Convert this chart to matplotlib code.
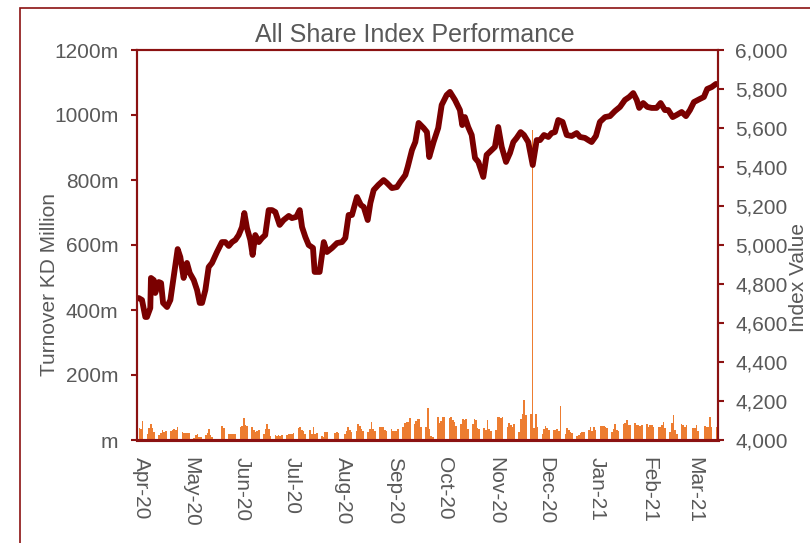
import pandas as pd
import matplotlib
matplotlib.use("Agg")
import matplotlib.pyplot as plt
import matplotlib.dates as mdates
from matplotlib.ticker import FuncFormatter, MultipleLocator
from matplotlib.patches import Rectangle

plt.rcParams['font.family'] = ['Liberation Sans', 'DejaVu Sans']

DARK = '#8B1212'
GREY = '#595959'

# index level (days after 1 Apr 2020)
base_date = pd.Timestamp("2020-04-01")
line_days = [
    -1.4, 0.6, 2.6, 3.6, 5.6, 6.0, 7.7, 8.6, 10.7, 12.1,
    13.3, 15.7, 17.7, 19.7, 22.1, 23.7, 25.7, 27.7, 29.4, 31.8,
    33.8, 35.4, 36.8, 38.8, 40.8, 42.8, 45.8, 48.8, 50.8, 52.9,
    54.9, 56.9, 58.9, 60.9, 62.3, 63.9, 65.9, 67.3, 68.9, 71.0,
    73.0, 74.9, 77.0, 79.0, 81.0, 83.6, 86.0, 89.1, 91.0, 93.6,
    95.7, 97.1, 99.1, 101.1, 103.7, 104.7, 107.7, 110.2, 112.1, 115.2,
    118.2, 121.2, 123.2, 125.2, 127.2, 130.2, 132.6, 134.3, 136.7, 138.3,
    140.3, 143.1, 146.3, 148.3, 151.3, 154.3, 156.3, 159.4, 160.8, 163.4,
    165.4, 167.4, 170.4, 172.4, 173.8, 176.4, 179.2, 181.3, 184.3, 186.3,
    189.3, 192.3, 193.7, 195.3, 197.3, 199.4, 201.4, 203.4, 206.4, 208.4,
    211.4, 213.4, 215.4, 217.5, 220.1, 222.5, 224.5, 226.5, 228.9, 230.9,
    233.5, 236.2, 238.6, 240.6, 243.0, 245.6, 247.6, 249.6, 251.6, 254.2,
    256.7, 259.7, 262.7, 264.7, 267.7, 269.7, 271.7, 274.3, 276.7, 279.8,
    282.8, 285.8, 288.8, 291.8, 294.4, 296.8, 298.9, 300.4, 302.8, 305.3,
    307.9, 310.9, 313.3, 315.9, 317.9, 320.6, 323.0, 326.0, 328.6, 331.0,
    333.4, 337.0, 339.4, 341.4, 344.1, 346.7,
]
line_values = [
    4728, 4718, 4631, 4631, 4677, 4831, 4820, 4754, 4810, 4805,
    4703, 4682, 4718, 4836, 4979, 4938, 4831, 4908, 4856, 4820,
    4769, 4703, 4703, 4769, 4887, 4908, 4964, 5015, 5015, 4995,
    5015, 5026, 5051, 5092, 5164, 5087, 5026, 4949, 5051, 5015,
    5036, 5051, 5179, 5179, 5169, 5103, 5128, 5149, 5138, 5144,
    5179, 5092, 5041, 5000, 4985, 4862, 4862, 5015, 4964, 4985,
    5010, 5015, 5036, 5154, 5154, 5246, 5205, 5195, 5128, 5215,
    5282, 5308, 5333, 5318, 5292, 5297, 5323, 5359, 5400, 5487,
    5528, 5626, 5600, 5579, 5451, 5528, 5600, 5718, 5769, 5785,
    5744, 5692, 5615, 5656, 5605, 5564, 5446, 5426, 5349, 5462,
    5487, 5503, 5605, 5503, 5426, 5472, 5528, 5549, 5579, 5564,
    5528, 5410, 5538, 5538, 5564, 5554, 5574, 5579, 5641, 5631,
    5564, 5559, 5574, 5554, 5549, 5538, 5528, 5559, 5631, 5656,
    5661, 5687, 5708, 5744, 5759, 5779, 5744, 5703, 5728, 5708,
    5703, 5703, 5728, 5692, 5692, 5656, 5667, 5682, 5661, 5692,
    5733, 5749, 5759, 5800, 5810, 5826,
]

# daily turnover in KD million, one value per trading day (Sun-Thu)
first_day = "2020-03-31"
last_day = "2021-03-14"
closed_days = ["2020-05-17", "2020-05-18", "2020-05-19", "2020-07-23",
               "2020-07-26", "2020-07-30", "2021-02-25", "2021-03-04"]
turnover = [
    36, 33, 58,
    17, 38, 50, 36, 25,
    14, 23, 31, 25, 28,
    27, 32, 35, 32, 39,
    25, 23, 22, 23, 21,
    7, 14, 17, 10, 10,
    14, 21, 35, 14, 10,
    43, 38,
    17, 20, 19, 20, 19,
    40, 43, 68, 45, 44,
    40, 32, 24, 29, 32,
    18, 34, 49, 34, 12,
    16, 13, 16, 13, 16,
    16, 18, 18, 18, 21,
    36, 39, 31, 29, 18,
    31, 18, 39, 18, 21,
    13, 10, 24, 26,
    21, 24, 22,
    18, 29, 41, 31, 24,
    29, 49, 44, 34, 29,
    24, 34, 54, 34, 27,
    39, 41, 39, 31, 29,
    34, 29, 27, 29, 34,
    39, 51, 54, 54, 68,
    49, 60, 65, 65, 39,
    40, 100, 35, 12, 10,
    70, 53, 60, 70, 70,
    67, 70, 62, 56, 43,
    49, 64, 62, 64, 33,
    49, 64, 62, 36, 33,
    36, 31, 62, 33, 29,
    30, 70, 72, 68, 70,
    40, 52, 45, 40, 50,
    26, 65, 80, 122, 77,
    80, 954, 38, 79, 41,
    19, 34, 44, 38, 31,
    30, 32, 35, 28, 105,
    20, 38, 30, 25, 21,
    12, 14, 22, 25, 25,
    30, 40, 27, 41, 30,
    44, 43, 43, 40, 37,
    25, 35, 50, 30, 28,
    49, 51, 62, 46, 46,
    51, 46, 47, 44, 46,
    48, 41, 46, 46, 41,
    41, 41, 46, 56, 36,
    26, 51, 77, 30, 20,
    49, 46, 41, 46,
    36, 36, 46, 28,
    43, 41, 39, 70, 41,
    41,
]

trade_dates = pd.bdate_range(first_day, last_day, freq="C",
                             weekmask="Sun Mon Tue Wed Thu", holidays=closed_days)
n = min(len(trade_dates), len(turnover))
line_dates = base_date + pd.to_timedelta(line_days, unit="D")

fig = plt.figure(figsize=(8.1, 5.43), dpi=100)
ax = fig.add_axes([137 / 810, 103 / 543, 581 / 810, 390 / 543])
ax2 = ax.twinx()

ax.bar(trade_dates[:n], turnover[:n], width=1.0, color='#ED7D31', linewidth=0)
ax2.plot(line_dates, line_values, color='#7A0000', lw=4.2,
         solid_capstyle='round', solid_joinstyle='round')

ax.set_ylim(0, 1200)
ax2.set_ylim(4000, 6000)
ax.set_xlim(pd.Timestamp("2020-03-29 14:00"), pd.Timestamp("2021-03-14 22:00"))

ax.yaxis.set_major_locator(MultipleLocator(200))
ax.yaxis.set_major_formatter(FuncFormatter(lambda v, p: f"{v:.0f}m" if v else "m"))
ax2.yaxis.set_major_locator(MultipleLocator(200))
ax2.yaxis.set_major_formatter(FuncFormatter(lambda v, p: f"{v:,.0f}"))

ax.xaxis.set_major_locator(mdates.MonthLocator())
ax.xaxis.set_major_formatter(mdates.DateFormatter("%b-%y"))

ax.tick_params(axis='y', direction='out', length=4.3, width=1.5, color=DARK,
               labelsize=15, labelcolor=GREY, pad=9)
ax2.tick_params(axis='y', direction='out', length=4.3, width=1.5, color=DARK,
                labelsize=15, labelcolor=GREY, pad=8)
ax.tick_params(axis='x', length=0, pad=12, labelsize=15, labelcolor=GREY,
               labelrotation=270)

for a in (ax, ax2):
    for side, sp in a.spines.items():
        sp.set_color(DARK)
        sp.set_linewidth(1.5)
    a.spines['bottom'].set_linewidth(2.2)

fig.text(415 / 810, 1 - 35 / 543, "All Share Index Performance", fontsize=18,
         color=GREY, ha='center', va='center')
fig.text(50 / 810, 1 - 285 / 543, "Turnover KD Million", fontsize=15,
         color=GREY, ha='center', va='center', rotation=90)
fig.text(799 / 810, 1 - 277 / 543, "Index Value", fontsize=15,
         color=GREY, ha='center', va='center', rotation=90)

# outer chart frame, runs off the right and bottom edges
fig.patches.append(Rectangle((20 / 810, -0.1), 1.0, 1.1 - 8 / 543,
                             transform=fig.transFigure, fill=False,
                             edgecolor=DARK, lw=1.2))

fig.savefig("out.png", dpi=100)
